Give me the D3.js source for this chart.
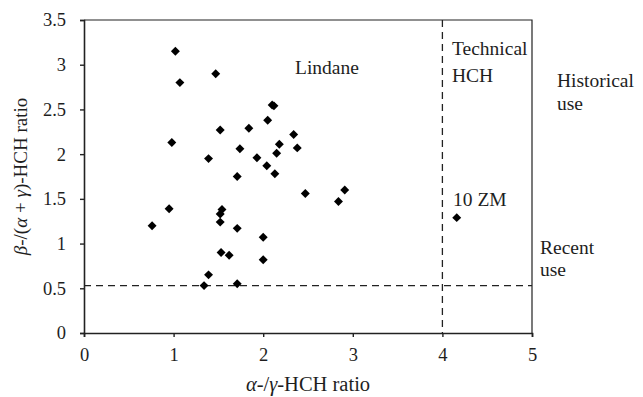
<!DOCTYPE html>
<html>
<head>
<meta charset="utf-8">
<script src="https://cdn.jsdelivr.net/npm/d3@7"></script>
<style>
  html, body { margin: 0; padding: 0; background: #fff; }
  svg text { font-family: "Liberation Serif", "DejaVu Serif", serif; fill: #1e1e1e; }
</style>
</head>
<body>
<svg id="chart" width="643" height="397"></svg>
<script>
// HCH isomer ratios per sample
const alphaGammaRatio = [1.02, 1.07, 1.47, 2.10, 2.12, 2.05, 1.52, 1.84, 2.34, 0.98,
                         2.18, 2.38, 2.15, 1.74, 1.39, 1.93, 2.04, 2.13, 1.71, 2.47,
                         0.95, 0.76, 1.54, 1.52, 1.52, 1.71, 2.00, 1.53, 1.62, 2.00,
                         1.39, 1.34, 1.71, 2.91, 2.84, 4.16];
const betaRatio       = [3.15, 2.80, 2.90, 2.55, 2.54, 2.38, 2.27, 2.29, 2.22, 2.13,
                         2.11, 2.07, 2.01, 2.06, 1.95, 1.96, 1.87, 1.78, 1.75, 1.56,
                         1.39, 1.20, 1.38, 1.33, 1.24, 1.17, 1.07, 0.90, 0.87, 0.82,
                         0.65, 0.53, 0.55, 1.60, 1.47, 1.29];
const xTicks = [0, 1, 2, 3, 4, 5];
const yTicks = [0, 0.5, 1, 1.5, 2, 2.5, 3, 3.5];
const technicalThreshold = 4;     // α/γ ratio separating lindane from technical HCH
const recentThreshold = 0.53;     // β/(α+γ) ratio separating recent from historical use

const svg = d3.select("#chart");
const margin = { left: 84, right: 111, top: 20, bottom: 64 };
const W = 643, H = 397;
const x = d3.scaleLinear().domain([0, 5]).range([margin.left, W - margin.right]);
const y = d3.scaleLinear().domain([0, 3.5]).range([H - margin.bottom, margin.top]);

// plot frame (top and right)
svg.append("path")
  .attr("d", `M${x(0)},${y(3.5)}H${x(5)}V${y(0)}`)
  .attr("fill", "none").attr("stroke", "#222").attr("stroke-width", 1.2);

// threshold lines
svg.append("line")
  .attr("x1", x(0)).attr("x2", x(5))
  .attr("y1", y(recentThreshold)).attr("y2", y(recentThreshold))
  .attr("stroke", "#222").attr("stroke-width", 1.3).attr("stroke-dasharray", "7,5");
svg.append("line")
  .attr("x1", x(technicalThreshold)).attr("x2", x(technicalThreshold))
  .attr("y1", y(3.5)).attr("y2", y(0))
  .attr("stroke", "#222").attr("stroke-width", 1.3).attr("stroke-dasharray", "7,5");

// axes
const xAxis = svg.append("g")
  .attr("transform", `translate(0,${y(0)})`)
  .call(d3.axisBottom(x).tickValues(xTicks).tickSize(4).tickPadding(11).tickFormat(d3.format("~g")));
const yAxis = svg.append("g")
  .attr("transform", `translate(${x(0)},0)`)
  .call(d3.axisLeft(y).tickValues(yTicks).tickSize(4).tickPadding(14).tickFormat(d3.format("~g")));
[xAxis, yAxis].forEach(g => {
  g.select(".domain").attr("stroke", "#222").attr("stroke-width", 1.6);
  g.selectAll(".tick line").attr("stroke", "#222").attr("stroke-width", 1.4);
  g.selectAll(".tick text").attr("font-size", 18.5).attr("font-family", "Liberation Serif").attr("fill", "#1e1e1e");
});

// sample points
const diamond = d3.symbol().type(d3.symbolSquare).size(40);
svg.append("g").selectAll("path")
  .data(alphaGammaRatio.map((v, i) => [v, betaRatio[i]]))
  .join("path")
  .attr("d", diamond)
  .attr("transform", d => `translate(${x(d[0])},${y(d[1])}) rotate(45)`)
  .attr("fill", "#000");

// annotations
function note(px, py, lines, gap) {
  const t = svg.append("text").attr("x", px).attr("y", py).attr("font-size", 19.5);
  lines.forEach((l, i) => t.append("tspan").attr("x", px).attr("dy", i ? gap : 0).text(l));
}
note(295, 74, ["Lindane"]);
note(452, 55, ["Technical", "HCH"], 27);
note(557, 87, ["Historical", "use"], 23);
note(453, 206, ["10 ZM"]);
note(540, 254, ["Recent", "use"], 22);

// axis titles
const xt = svg.append("text")
  .attr("x", (x(0) + x(5)) / 2).attr("y", 391)
  .attr("text-anchor", "middle").attr("font-size", 20.5);
xt.append("tspan").attr("font-style", "italic").text("α");
xt.append("tspan").text("-/");
xt.append("tspan").attr("font-style", "italic").text("γ");
xt.append("tspan").text("-HCH ratio");

const yt = svg.append("text")
  .attr("transform", `translate(27,${(y(0) + y(3.5)) / 2}) rotate(-90)`)
  .attr("text-anchor", "middle").attr("font-size", 19);
yt.append("tspan").attr("font-style", "italic").text("β");
yt.append("tspan").text("-/(");
yt.append("tspan").attr("font-style", "italic").text("α");
yt.append("tspan").text(" + ");
yt.append("tspan").attr("font-style", "italic").text("γ");
yt.append("tspan").text(")-HCH ratio");
</script>
</body>
</html>
